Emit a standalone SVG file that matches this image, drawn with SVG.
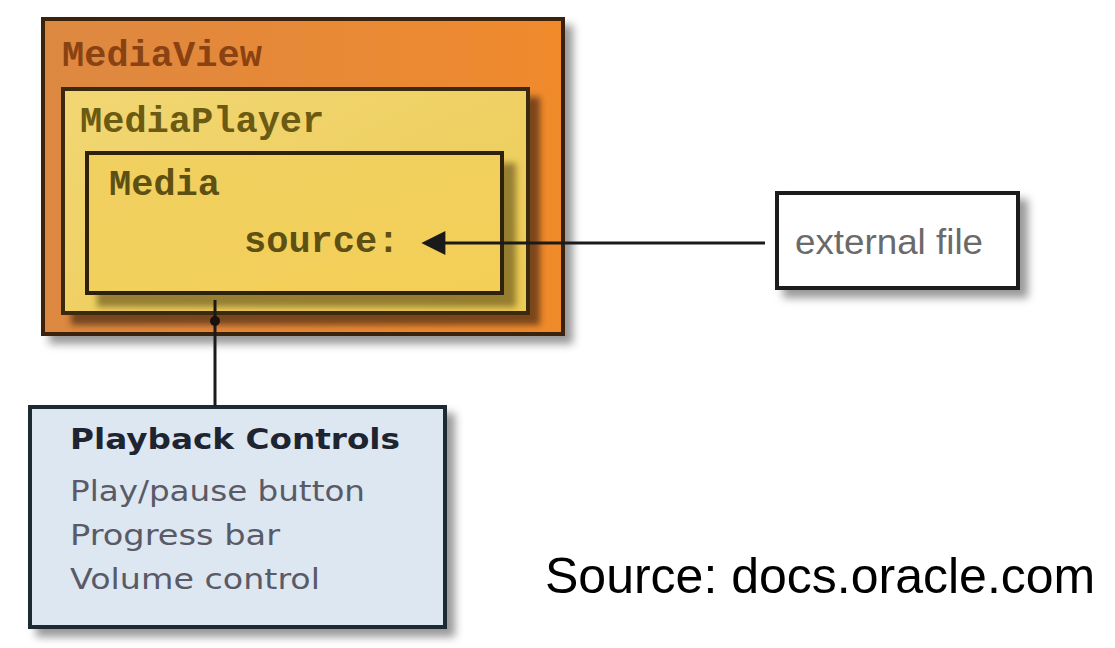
<svg xmlns="http://www.w3.org/2000/svg" width="1115" height="648" viewBox="0 0 1115 648">
  <style>
    .box { stroke-width: 4; }
    .mono { font-family: "Liberation Mono", "DejaVu Sans Mono", monospace; font-size: 37px; font-weight: bold; }
    .sans { font-family: "DejaVu Sans", Verdana, sans-serif; font-size: 29px; }
    .conn { stroke: #1a1a1a; stroke-width: 3; fill: none; }
  </style>
  <defs>
    <linearGradient id="gView" x1="0" y1="0" x2="1" y2="0">
      <stop offset="0" stop-color="#dd8842"/>
      <stop offset="1" stop-color="#f08a2c"/>
    </linearGradient>
    <linearGradient id="gPlayer" x1="0" y1="0" x2="1" y2="1">
      <stop offset="0" stop-color="#f1d673"/>
      <stop offset="1" stop-color="#eccb55"/>
    </linearGradient>
    <linearGradient id="gMedia" x1="0" y1="0" x2="1" y2="1">
      <stop offset="0" stop-color="#f0d060"/>
      <stop offset="1" stop-color="#f4cf58"/>
    </linearGradient>
    <filter id="shGrey" x="-10%" y="-10%" width="130%" height="130%">
      <feDropShadow dx="8" dy="8" stdDeviation="4" flood-color="#000" flood-opacity="0.4"/>
    </filter>
    <filter id="shBrown" x="-10%" y="-10%" width="130%" height="130%">
      <feDropShadow dx="10" dy="10" stdDeviation="3" flood-color="#4a2a10" flood-opacity="0.7"/>
    </filter>
    <filter id="shOlive" x="-10%" y="-10%" width="130%" height="130%">
      <feDropShadow dx="12" dy="12" stdDeviation="3" flood-color="#5a4a10" flood-opacity="0.6"/>
    </filter>
    <marker id="arrow" viewBox="0 0 10 10" refX="1" refY="5" markerWidth="9" markerHeight="8" markerUnits="strokeWidth" orient="auto-start-reverse">
      <path d="M0,0 L10,5 L0,10 z" fill="#1a1a1a"/>
    </marker>
  </defs>
  <rect width="1115" height="648" fill="#ffffff"/>

  <g id="mediaview">
    <rect class="box" x="43" y="19" width="520" height="315" fill="url(#gView)" stroke="#3a2010" filter="url(#shGrey)"/>
    <text class="mono" x="62" y="66" fill="#8a4212">MediaView</text>
  </g>

  <g id="mediaplayer">
    <rect class="box" x="63" y="89" width="465" height="224" fill="url(#gPlayer)" stroke="#3a2a10" filter="url(#shBrown)"/>
    <text class="mono" x="80" y="132" fill="#6b5a12">MediaPlayer</text>
  </g>

  <g id="media">
    <rect class="box" x="87" y="153" width="415" height="140" fill="url(#gMedia)" stroke="#2e2410" filter="url(#shOlive)"/>
    <text class="mono" x="109" y="195" fill="#5e5012">Media</text>
    <text class="mono" x="244" y="252" fill="#5e5012">source:</text>
  </g>

  <g id="externalfile">
    <rect x="777" y="193" width="241" height="95" fill="#ffffff" stroke="#1e1e1e" stroke-width="4" filter="url(#shGrey)"/>
    <text x="795" y="254" font-family="'Liberation Sans', Arial, sans-serif" font-size="35" fill="#6a6a6a" textLength="188" lengthAdjust="spacingAndGlyphs">external file</text>
  </g>

  <g id="playback">
    <rect x="30" y="407" width="415" height="220" fill="#dce7f2" stroke="#1e2a30" stroke-width="4" filter="url(#shGrey)"/>
    <text class="sans" x="70" y="449" font-weight="bold" fill="#1e2430" textLength="330" lengthAdjust="spacingAndGlyphs">Playback Controls</text>
    <text class="sans" x="70" y="501" fill="#5a5a66" textLength="295" lengthAdjust="spacingAndGlyphs">Play/pause button</text>
    <text class="sans" x="70" y="545" fill="#5a5a66" textLength="210" lengthAdjust="spacingAndGlyphs">Progress bar</text>
    <text class="sans" x="70" y="589" fill="#5a5a66" textLength="250" lengthAdjust="spacingAndGlyphs">Volume control</text>
  </g>

  <g id="connectors">
    <line class="conn" x1="765" y1="243" x2="443" y2="243" marker-end="url(#arrow)"/>
    <line class="conn" x1="215" y1="300" x2="215" y2="406"/>
    <circle cx="215" cy="321" r="5" fill="#1a1010"/>
  </g>

  <text x="545" y="593" font-family="'Liberation Sans', Arial, sans-serif" font-size="50" fill="#000000">Source: docs.oracle.com</text>
</svg>
